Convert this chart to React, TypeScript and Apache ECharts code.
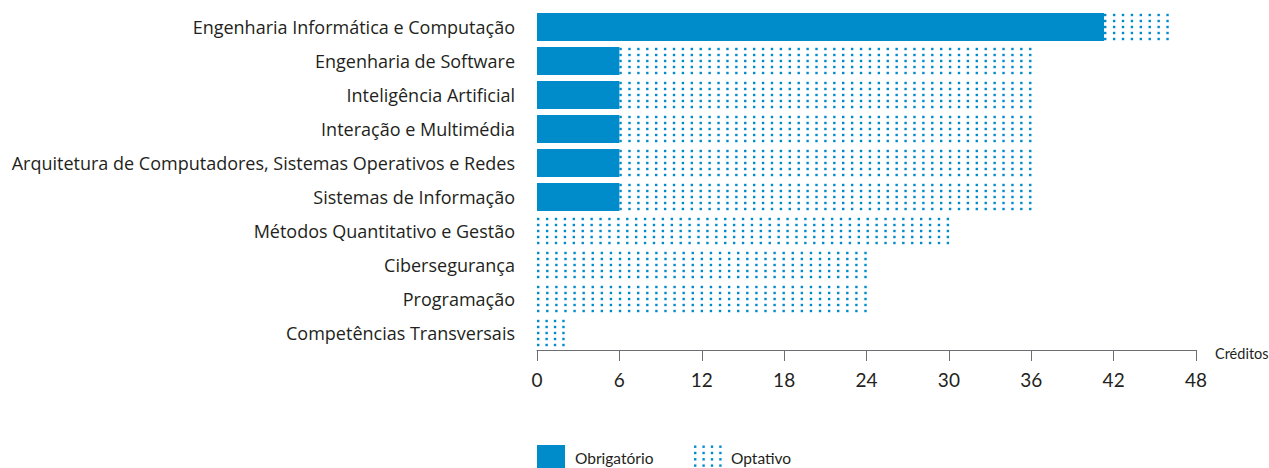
import React, { useEffect, useRef } from "react";
import * as echarts from "echarts";

const categories = [
  "Engenharia Informática e Computação",
  "Engenharia de Software",
  "Inteligência Artificial",
  "Interação e Multimédia",
  "Arquitetura de Computadores, Sistemas Operativos e Redes",
  "Sistemas de Informação",
  "Métodos Quantitativo e Gestão",
  "Cibersegurança",
  "Programação",
  "Competências Transversais",
];
const obrigatorio = [41.3, 6, 6, 6, 6, 6, 0, 0, 0, 0];
const optativo = [4.7, 30, 30, 30, 30, 30, 30, 24, 24, 2];
const xTicks = [0, 6, 12, 18, 24, 30, 36, 42, 48];
const seriesNames = ["Obrigatório", "Optativo"];
const axisName = "Créditos";

const BLUE = "#008bcb";
const TEXT = "#231f20";
const FONT = "Lato";

export default function App() {
  const ref = useRef<HTMLDivElement>(null);
  useEffect(() => {
    document.body.style.margin = "0";
    const chart = echarts.init(ref.current!, null, { renderer: "svg" });

    const optData = categories.map((_, i) => [obrigatorio[i], obrigatorio[i] + optativo[i], i]);

    const legendDots: any[] = [];
    for (let i = 0; i < 4; i++) {
      for (let j = 0; j < 5; j++) {
        legendDots.push({
          type: "rect",
          shape: { x: 694 + i * 8.4, y: 445.5 + j * 6.3, width: 2.4, height: 2.4 },
          style: { fill: BLUE },
        });
      }
    }

    chart.setOption({
      animation: false,
      grid: {
        left: 537,
        right: 73,
        top: 10,
        bottom: 118,
        containLabel: false,
        outerBoundsMode: "none",
      },
      xAxis: {
        type: "value",
        min: 0,
        max: 48,
        interval: 6,
        splitLine: { show: false },
        axisLine: { show: true, lineStyle: { color: "#6d6e71", width: 1 } },
        axisTick: { show: true, length: 11, lineStyle: { color: "#6d6e71" } },
        axisLabel: {
          color: TEXT,
          fontSize: 19,
          fontFamily: FONT,
          margin: 20,
          formatter: (v: number) => (xTicks.includes(v) ? String(v) : ""),
        },
      },
      yAxis: {
        type: "category",
        data: categories,
        inverse: true,
        axisLine: { show: false },
        axisTick: { show: false },
        axisLabel: { color: TEXT, fontSize: 18, fontFamily: "Open Sans", margin: 22 },
      },
      graphic: [
        { type: "text", left: 1215, top: 346, style: { text: axisName, fontSize: 14.5, fontFamily: FONT, fill: TEXT } },
        { type: "rect", shape: { x: 537, y: 445, width: 28, height: 23 }, style: { fill: BLUE } },
        { type: "text", left: 575, top: 450, style: { text: seriesNames[0], fontSize: 15.5, fontFamily: FONT, fill: TEXT } },
        { type: "group", children: legendDots },
        { type: "text", left: 731, top: 450, style: { text: seriesNames[1], fontSize: 15.5, fontFamily: FONT, fill: TEXT } },
      ],
      series: [
        {
          name: seriesNames[0],
          type: "bar",
          barWidth: 28,
          data: obrigatorio,
          itemStyle: { color: BLUE },
        },
        {
          name: seriesNames[1],
          type: "custom",
          data: optData,
          encode: { x: [0, 1], y: 2 },
          renderItem: (params: any, api: any) => {
            const s = api.value(0);
            const e = api.value(1);
            const idx = api.value(2);
            if (!(e > s)) return null;
            const p0 = api.coord([s, idx]);
            const p1 = api.coord([e, idx]);
            const cy = p0[1];
            const first = p0[0] + 1.2;
            const last = p1[0] - 1;
            const n = Math.max(1, Math.round((last - first) / 9));
            const step = (last - first) / n;
            const children: any[] = [];
            for (let i = 0; i <= n; i++) {
              for (let j = -2; j <= 2; j++) {
                children.push({
                  type: "rect",
                  shape: { x: first + i * step - 1.2, y: cy + j * 6 - 1.2, width: 2.4, height: 2.4 },
                  style: { fill: BLUE },
                });
              }
            }
            return { type: "group", children };
          },
        },
      ],
    });
    return () => chart.dispose();
  }, []);
  return <div ref={ref} style={{ width: 1269, height: 468 }} />;
}
